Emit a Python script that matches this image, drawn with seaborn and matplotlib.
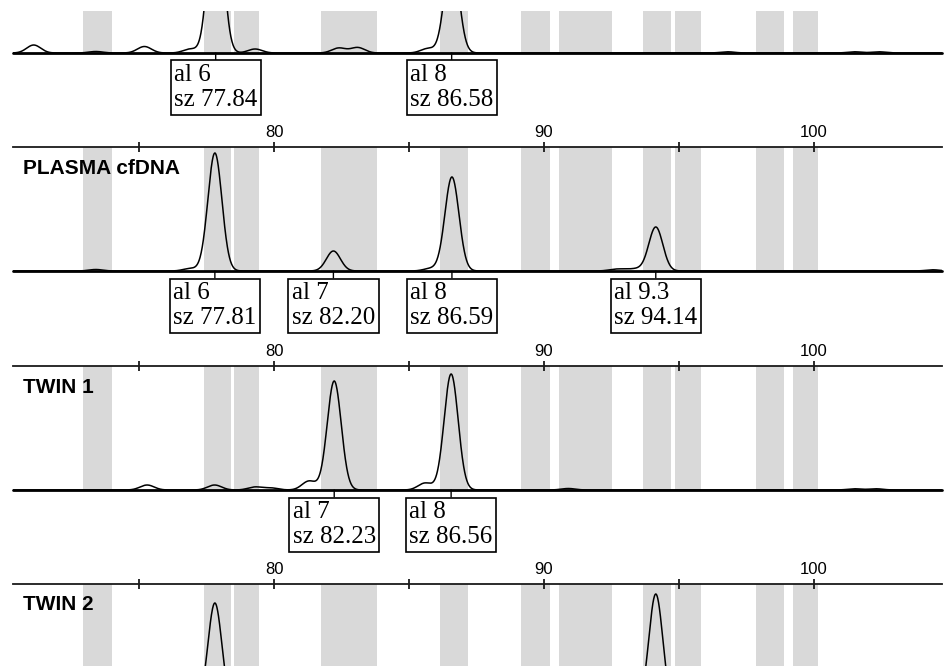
import numpy as np
import pandas as pd
import matplotlib
matplotlib.use("Agg")
import matplotlib.pyplot as plt
import seaborn as sns

# ---------------- data ----------------
# allele bins (bp) shown as grey bands
bin_start = [72.93, 77.41, 78.52, 81.74, 86.15, 89.15, 90.56, 93.67, 94.85, 97.85, 99.22]
bin_end = [74.00, 78.41, 79.44, 83.81, 87.19, 90.22, 92.52, 94.70, 95.81, 98.89, 100.15]

tick_values = [75, 80, 85, 90, 95, 100]
tick_labels = ["", "80", "", "90", "", "100"]

panel_names = ["", "PLASMA cfDNA", "TWIN 1", "TWIN 2"]

# trace peaks: size (bp) and height (RFU)
p1_sizes = [71.1, 73.4, 75.2, 76.9, 77.84, 79.3, 82.4, 83.1, 85.7, 86.58, 96.8, 101.5, 102.4]
p1_heights = [80, 15, 65, 40, 1700, 40, 50, 55, 45, 1000, 12, 12, 12]

p2_sizes = [73.4, 76.9, 77.81, 82.20, 85.8, 86.59, 92.6, 92.9, 93.4, 94.14, 104.4]
p2_heights = [15, 25, 1180, 200, 25, 940, 12, 12, 20, 440, 12]

p3_sizes = [75.3, 77.8, 79.3, 79.9, 81.3, 82.23, 85.6, 86.56, 90.9, 101.5, 102.3]
p3_heights = [50, 50, 30, 20, 90, 1090, 70, 1160, 15, 12, 12]

p4_sizes = [77.81, 94.14]
p4_heights = [1050, 1140]

# called alleles (label boxes)
p1_alleles = ["6", "8"]
p1_called = [77.84, 86.58]
p2_alleles = ["6", "7", "8", "9.3"]
p2_called = [77.81, 82.20, 86.59, 94.14]
p3_alleles = ["7", "8"]
p3_called = [82.23, 86.56]
p4_alleles = []
p4_called = []

# ---------------- style / layout ----------------
sns.set_theme(style="white")
plt.rcParams["font.family"] = ["Liberation Sans", "DejaVu Sans"]

W, H = 944, 666
fig = plt.figure(figsize=(W / 100, H / 100), dpi=100)

x_left_px, x_right_px = 13, 942
xmin = 80 - (274 - x_left_px) / 27.0
xmax = 80 + (x_right_px - 274) / 27.0
px_rfu = 10.0
sigma = 0.26

# (top_px, bottom_px, baseline_px, show_axis_line)
layout = [(11, 53, 53, False), (147, 271, 271, True), (366, 490, 490, True), (584, 666, 708, True)]

peaks = [(p1_sizes, p1_heights), (p2_sizes, p2_heights), (p3_sizes, p3_heights), (p4_sizes, p4_heights)]
calls = [(p1_alleles, p1_called), (p2_alleles, p2_called), (p3_alleles, p3_called), (p4_alleles, p4_called)]

grid = np.arange(xmin, xmax, 0.01)
band_color = "#d9d9d9"
axis_color = "#1a1a1a"

for i, ((top, bot, base, show_axis), (sizes, heights), (alleles, called), name) in enumerate(
        zip(layout, peaks, calls, panel_names)):
    ax = fig.add_axes([x_left_px / W, (H - bot) / H, (x_right_px - x_left_px) / W, (bot - top) / H])
    ax.set_facecolor("none")
    ax.set_xlim(xmin, xmax)
    ax.set_ylim((base - bot) * px_rfu, (base - top) * px_rfu)

    for s, e in zip(bin_start, bin_end):
        ax.axvspan(s, e, color=band_color, lw=0, zorder=0)

    sig = np.zeros_like(grid)
    for s, h in zip(sizes, heights):
        sig += h * np.exp(-0.5 * ((grid - s) / sigma) ** 2)
    df = pd.DataFrame({"size": grid, "rfu": sig})
    if base == bot:
        ax.axhline(0, color="black", lw=2.0, zorder=2, clip_on=False)
    sns.lineplot(data=df, x="size", y="rfu", ax=ax, color="black", lw=1.1,
                 estimator=None, zorder=3)

    for sp in ["left", "right", "bottom"]:
        ax.spines[sp].set_visible(False)
    ax.set_yticks([])
    ax.set_xlabel("")
    ax.set_ylabel("")
    if show_axis:
        ax.spines["top"].set_visible(True)
        ax.spines["top"].set_color(axis_color)
        ax.spines["top"].set_linewidth(1.3)
        ax.xaxis.tick_top()
        ax.set_xticks(tick_values)
        ax.set_xticklabels(tick_labels)
        ax.tick_params(axis="x", direction="inout", length=7, width=1.3, color=axis_color,
                       labelsize=12, pad=1.5, labelcolor="black", top=True, bottom=False,
                       labeltop=True, labelbottom=False)
    else:
        ax.spines["top"].set_visible(False)
        ax.set_xticks([])

    if name:
        ax.text(10 / (x_right_px - x_left_px), 1 - 21 / (bot - top), name, transform=ax.transAxes,
                fontsize=15, fontweight="bold", ha="left", va="center", color="black", zorder=5)

    for a, c in zip(alleles, called):
        ax.annotate(f"al {a}\nsz {c:.2f}", xy=(c, 0), xycoords="data",
                    xytext=(0, -11), textcoords="offset pixels",
                    ha="center", va="top", multialignment="left",
                    fontsize=18, family=["Liberation Serif", "DejaVu Serif"], color="black",
                    bbox=dict(boxstyle="square,pad=0.14", fc="white", ec="black", lw=1.2),
                    arrowprops=dict(arrowstyle="-", color="black", lw=1.0, shrinkA=0, shrinkB=0),
                    annotation_clip=False, zorder=6)

fig.savefig("out.png", dpi=100, facecolor="white")
